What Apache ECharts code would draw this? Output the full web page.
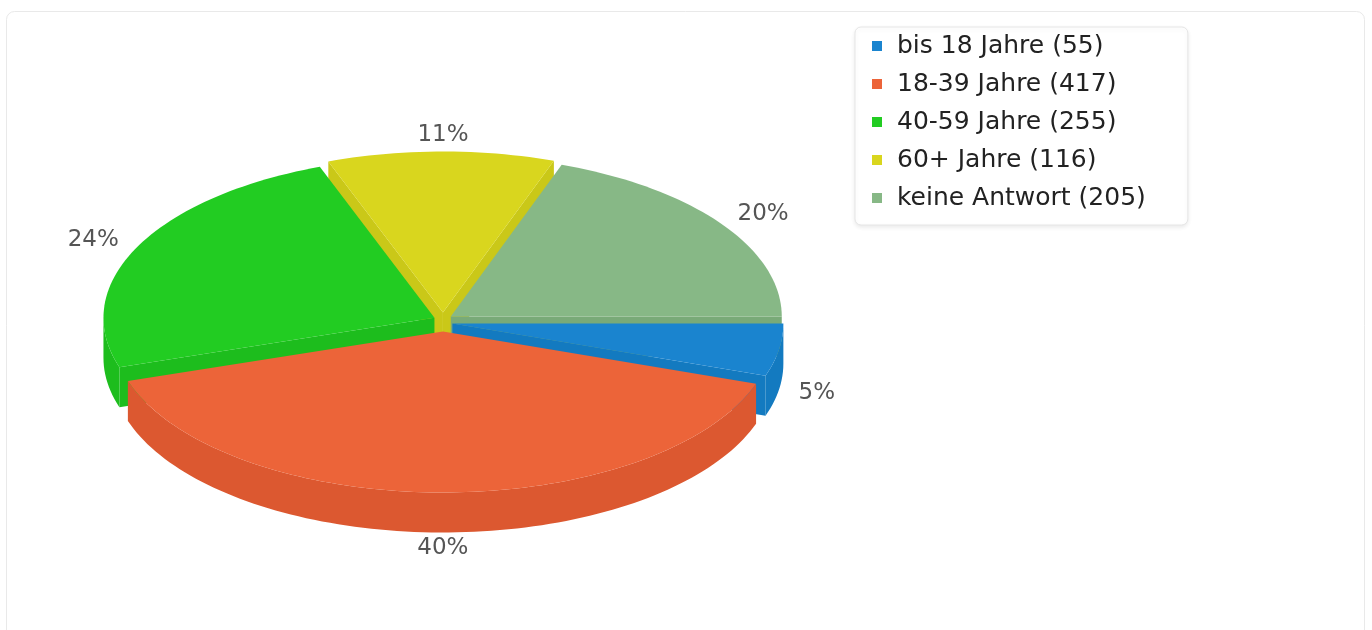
<!DOCTYPE html>
<html>
<head>
<meta charset="utf-8">
<script src="https://cdn.jsdelivr.net/npm/echarts@6/dist/echarts.min.js"></script>
<style>
  html, body { margin: 0; padding: 0; background: #fff; }
  #chart { width: 1372px; height: 630px; }
</style>
</head>
<body>
<div id="chart"></div>
<script>
// Altersgruppen
const categories = ['bis 18 Jahre', '18-39 Jahre', '40-59 Jahre', '60+ Jahre', 'keine Antwort'];
const counts = [55, 417, 255, 116, 205];

// farben: oberseite / seitenwand
const topColors = ['#1a84cf', '#ec6439', '#22cc22', '#d9d61e', '#87b886'];
const sideColors = ['#137ac0', '#dc5830', '#1dbd1d', '#cac818', '#79aa78'];

const total = counts.reduce((a, b) => a + b, 0);

// pie geometry (pixels)
const cx = 443, cy = 322, rx = 331, ry = 161;
const depth = 40, explode = 9.5;

function rad(d) { return d * Math.PI / 180; }

function geom(idx) {
  let before = 0;
  for (let k = 0; k < idx; k++) before += counts[k];
  const a0 = before / total * 360;
  const a1 = (before + counts[idx]) / total * 360;
  const mid = (a0 + a1) / 2;
  const ox = cx + explode * Math.cos(rad(mid));
  const oy = cy + explode * Math.sin(rad(mid));
  const pt = (a, dy) => [ox + rx * Math.cos(rad(a)), oy + ry * Math.sin(rad(a)) + (dy || 0)];
  const arc = (s, e, dy) => {
    const out = [];
    const n = Math.max(2, Math.ceil((e - s) / 1.5));
    for (let j = 0; j <= n; j++) out.push(pt(s + (e - s) * j / n, dy));
    return out;
  };
  return { a0, a1, mid, ox, oy, pt, arc };
}

// walls + cut faces, drawn under every top face, back slices first
function renderSides(params) {
  const idx = params.dataIndex;
  const g = geom(idx);
  const order = 100 + Math.round(Math.sin(rad(g.mid)) * 50);
  const fill = { fill: sideColors[idx] };
  const children = [];
  const s = Math.max(g.a0, 0), e = Math.min(g.a1, 180);
  if (s < e) {
    const pts = g.arc(s, e, 0).concat(g.arc(s, e, depth).reverse());
    children.push({ type: 'polygon', z2: order, shape: { points: pts }, style: fill });
  }
  const cut = (a) => {
    const r = g.pt(a, 0);
    return [[g.ox, g.oy], r, [r[0], r[1] + depth], [g.ox, g.oy + depth]];
  };
  if (Math.cos(rad(g.a0)) < 0) {
    children.push({ type: 'polygon', z2: order, shape: { points: cut(g.a0) }, style: fill });
  }
  if (Math.cos(rad(g.a1)) > 0) {
    children.push({ type: 'polygon', z2: order, shape: { points: cut(g.a1) }, style: fill });
  }
  return { type: 'group', children: children };
}

function renderTop(idx) {
  return function () {
    const g = geom(idx);
    const c = Math.cos(rad(g.mid)), sn = Math.sin(rad(g.mid));
    const lx = g.ox + (rx + 20) * c;
    const ly = g.oy + (ry + 16) * sn + (sn > 0 ? depth : 0);
    const align = c > 0.1 ? 'left' : (c < -0.1 ? 'right' : 'center');
    return {
      type: 'group',
      children: [{
        type: 'polygon',
        z2: 500,
        shape: { points: [[g.ox, g.oy]].concat(g.arc(g.a0, g.a1, 0)) },
        style: { fill: topColors[idx] }
      }, {
        type: 'text',
        z2: 600,
        x: align === 'center' ? g.ox : lx,
        y: ly,
        style: {
          text: Math.round(counts[idx] / total * 100) + '%',
          fill: '#555',
          font: '23px "DejaVu Sans"',
          align: align,
          verticalAlign: 'middle'
        }
      }]
    };
  };
}

const chart = echarts.init(document.getElementById('chart'));
chart.setOption({
  animation: false,
  backgroundColor: '#fff',
  graphic: [{
    type: 'rect', silent: true, z: -10,
    shape: { x: 6.5, y: 11.5, width: 1358, height: 700, r: 8 },
    style: { fill: 'none', stroke: '#e9e9e9', lineWidth: 1 }
  }],
  legend: {
    orient: 'vertical',
    left: 855,
    top: 27,
    padding: [6, 42, 14, 17],
    itemGap: 12,
    itemWidth: 10,
    itemHeight: 10,
    icon: 'rect',
    backgroundColor: '#fff',
    borderColor: '#e6e6e6',
    borderWidth: 1,
    borderRadius: 6,
    shadowColor: 'rgba(0,0,0,0.08)',
    shadowBlur: 4,
    shadowOffsetY: 2,
    selectedMode: false,
    data: categories,
    formatter: function (name) {
      return name + ' (' + counts[categories.indexOf(name)] + ')';
    },
    textStyle: {
      fontFamily: 'DejaVu Sans',
      fontSize: 25,
      lineHeight: 26,
      color: '#222',
      padding: [0, 0, 0, 10]
    }
  },
  series: [{
    type: 'custom',
    name: 'sides',
    coordinateSystem: 'none',
    silent: true,
    z: 1,
    renderItem: renderSides,
    data: counts.map(v => [v])
  }].concat(categories.map(function (name, i) {
    return {
      type: 'custom',
      name: name,
      coordinateSystem: 'none',
      silent: true,
      z: 2,
      itemStyle: { color: topColors[i] },
      renderItem: renderTop(i),
      data: [[counts[i]]]
    };
  }))
});
</script>
</body>
</html>
